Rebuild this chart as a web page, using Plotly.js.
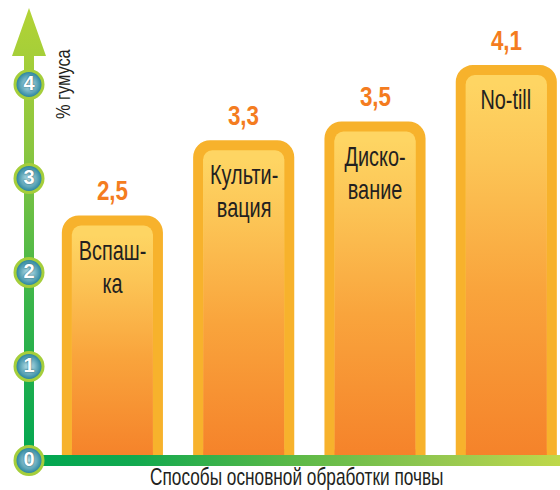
<!DOCTYPE html>
<html><head><meta charset="utf-8">
<script src="https://cdn.plot.ly/plotly-3.0.1.min.js"></script>
<style>html,body{margin:0;padding:0;background:#fff}</style>
</head><body><div id="chart" style="width:560px;height:490px"></div>
<script>
// ---- data ----
const categories = ["Вспашка", "Культивация", "Дискование", "No-till"];
const barLabels = ["Вспаш-<br>ка", "Культи-<br>вация", "Диско-<br>вание", "No-till"];
const humus = [2.5, 3.3, 3.5, 4.1];
const valueLabels = ["2,5", "3,3", "3,5", "4,1"];
const yTicks = [0, 1, 2, 3, 4];
const yTickLabels = ["0", "1", "2", "3", "4"];
const xTitle = "Способы основной обработки почвы";
const yTitle = "% гумуса";

// ---- layout / style ----
const W = 560, H = 490;
const xRange = [-0.856, 3.409];
const yRange = [-0.3138, 4.8989];
const yU = (yRange[1] - yRange[0]) / H;   // y units per px
const FONT = "'Liberation Sans', Arial, sans-serif";
const outerW = 0.77, innerW = 0.617;
const borderPx = 10, innerBasePx = 3, innerRadiusPx = 9, outerRadiusPx = 17;
const barTop = "#FED563";
const barScale = [[0, "#F5822A"], [0.45, "#F9A43C"], [0.8, "#FCC556"], [1, barTop]];
const xs = categories.map((c, i) => i);

const traces = [];
traces.push({
  type: "bar", x: xs, y: humus.map(v => v + borderPx * yU), width: outerW,
  marker: {color: "#F7B22C", cornerradius: outerRadiusPx, line: {width: 0}},
  hoverinfo: "skip", showlegend: false
});
const innerBase = innerBasePx * yU;
traces.push({
  type: "bar", x: xs, y: humus.map(v => v - innerBase), base: innerBase, width: innerW,
  marker: {color: barTop, cornerradius: innerRadiusPx, line: {width: 0}},
  hoverinfo: "skip", showlegend: false
});
humus.forEach((v, i) => {
  const top = v - innerRadiusPx * yU;
  const l = xs[i] - innerW / 2, r = xs[i] + innerW / 2;
  traces.push({
    type: "scatter", mode: "lines", x: [l, r, r, l, l], y: [innerBase, innerBase, top, top, innerBase],
    fill: "toself", line: {width: 0, color: "rgba(0,0,0,0)"},
    fillgradient: {type: "vertical", start: innerBase, stop: top, colorscale: barScale},
    hoverinfo: "skip", showlegend: false
  });
});
// y axis arrow (x in px on x2, y in data units)
const axX = 29, shaftHalf = 5, headHalf = 17;
const headBase = (460.5 - 56) / 94, headTip = (460.5 - 8) / 94;
traces.push({
  type: "scatter", mode: "lines", xaxis: "x2", yaxis: "y",
  x: [axX - shaftHalf, axX - shaftHalf, axX - headHalf, axX, axX + headHalf, axX + shaftHalf, axX + shaftHalf, axX - shaftHalf],
  y: [0, headBase, headBase, headTip, headBase, headBase, 0, 0],
  fill: "toself", line: {width: 0, color: "rgba(0,0,0,0)"},
  fillgradient: {type: "vertical", start: 0, stop: headTip,
    colorscale: [[0, "#00A651"], [0.35, "#3AB54A"], [0.69, "#8BC640"], [1, "#B3D335"]]},
  hoverinfo: "skip", showlegend: false
});
// x axis band
const bandHalf = 5.5 * yU;
traces.push({
  type: "scatter", mode: "lines", xaxis: "x2", yaxis: "y",
  x: [axX, W, W, axX, axX], y: [-bandHalf, -bandHalf, bandHalf, bandHalf, -bandHalf],
  fill: "toself", line: {width: 0, color: "rgba(0,0,0,0)"},
  fillgradient: {type: "horizontal", start: axX, stop: W,
    colorscale: [[0, "#00A651"], [0.2, "#12A94F"], [0.5, "#5CB947"], [0.78, "#96C850"], [1, "#BFD84A"]]},
  hoverinfo: "skip", showlegend: false
});
// tick circles
traces.push({
  type: "scatter", mode: "markers+text", xaxis: "x2", yaxis: "y",
  x: yTicks.map(() => axX), y: yTicks, text: yTickLabels, textposition: "middle center",
  marker: {size: 28, color: "#1A7A95", gradient: {type: "radial", color: "#C9ECF1"},
           line: {color: "#A5CE3B", width: 3}},
  textfont: {family: FONT, size: 20, color: "#FFFFFF", weight: "bold", shadow: "0px 0px 2px #0B4A5C"},
  cliponaxis: false, hoverinfo: "skip", showlegend: false
});

// annotations + horizontal squeeze factor for each (condensed look)
const annotations = [], squeeze = [], lineStep = [];
const LABEL_SIZE = 28, LINE_STEP = 33;
humus.forEach((v, i) => {
  annotations.push({x: xs[i], y: v, xref: "x", yref: "y", text: valueLabels[i], showarrow: false,
    yanchor: "middle", yshift: 35, font: {family: FONT, size: 28, color: "#F47C20", weight: "bold"}});
  squeeze.push(0.8); lineStep.push(0);
  annotations.push({x: xs[i], y: v, xref: "x", yref: "y", text: barLabels[i], showarrow: false,
    yanchor: "top", yshift: -7, font: {family: FONT, size: LABEL_SIZE, color: "#231F20"}});
  squeeze.push(0.71); lineStep.push(LINE_STEP / LABEL_SIZE);
});
annotations.push({x: 297 / W, y: 1 - 477 / H, xref: "paper", yref: "paper", text: xTitle, showarrow: false,
  xanchor: "center", yanchor: "middle", font: {family: FONT, size: 23, color: "#231F20"}});
squeeze.push(0.75); lineStep.push(0);
annotations.push({x: 62 / W, y: 1 - 84 / H, xref: "paper", yref: "paper", text: yTitle, showarrow: false,
  textangle: -90, xanchor: "center", yanchor: "middle", font: {family: FONT, size: 21, color: "#231F20"}});
squeeze.push(0.78); lineStep.push(0);

const layout = {
  width: W, height: H, margin: {l: 0, r: 0, t: 0, b: 0},
  paper_bgcolor: "#FFFFFF", plot_bgcolor: "rgba(0,0,0,0)",
  barmode: "overlay", showlegend: false,
  xaxis: {domain: [0, 1], range: xRange, visible: false, fixedrange: true},
  yaxis: {domain: [0, 1], range: yRange, visible: false, fixedrange: true},
  xaxis2: {overlaying: "x", range: [0, W], visible: false, fixedrange: true},
  annotations: annotations
};
Plotly.newPlot("chart", traces, layout, {staticPlot: true, displayModeBar: false}).then(gd => {
  gd.querySelectorAll("g.annotation").forEach(g => {
    const idx = +g.getAttribute("data-index");
    const t = g.querySelector("text.annotation-text");
    if (!t) return;
    if (lineStep[idx]) {
      t.querySelectorAll("tspan.line").forEach((ts, k) => {
        ts.setAttribute("dy", (k * lineStep[idx]) + "em");
      });
    }
    if (squeeze[idx]) {
      const b = t.getBBox();
      const cx = b.x + b.width / 2;
      t.setAttribute("transform", `translate(${cx} 0) scale(${squeeze[idx]} 1) translate(${-cx} 0)`);
    }
  });
});
</script>
</body></html>
